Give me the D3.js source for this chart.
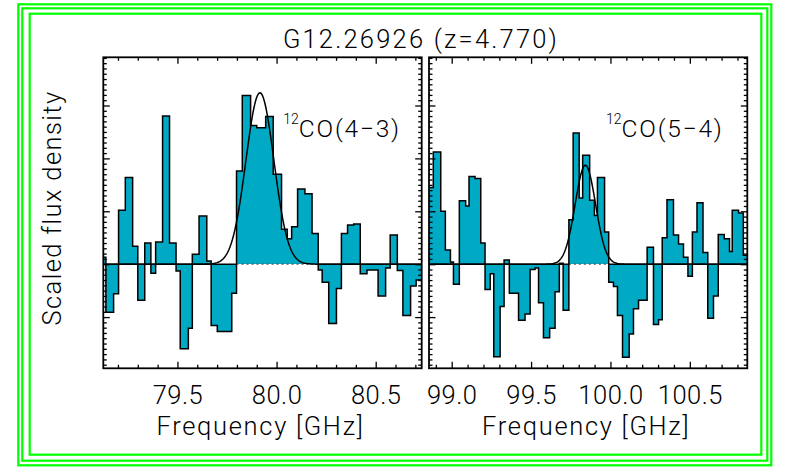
<!DOCTYPE html>
<html><head><meta charset="utf-8">
<script src="https://cdn.jsdelivr.net/npm/d3@7"></script>
<style>body{margin:0;background:#fff}svg{display:block}</style>
</head><body>
<svg id="c" width="786" height="468"></svg>
<script>
// ---------------- data ----------------
const titleText = "G12.26926 (z=4.770)";
const yTitle = "Scaled flux density";
const xTitle = "Frequency [GHz]";

// CO(4-3) panel
const co43Domain = [79.126, 80.732];
const co43Ticks = [79.5, 80.0, 80.5];
const co43Edges = [79.126, 79.139, 79.178, 79.203, 79.237, 79.274, 79.300, 79.335, 79.366, 79.390,
  79.425, 79.460, 79.493, 79.514, 79.555, 79.575, 79.609, 79.648, 79.670, 79.701,
  79.738, 79.774, 79.798, 79.827, 79.869, 79.900, 79.945, 79.983, 80.025, 80.054,
  80.076, 80.106, 80.143, 80.179, 80.210, 80.230, 80.263, 80.302, 80.327, 80.358,
  80.389, 80.422, 80.456, 80.485, 80.512, 80.550, 80.573, 80.609, 80.637, 80.676,
  80.704, 80.732];
const co43Flux = [0.13, -0.91, -0.56, 1.02, 1.64, 0.34, -0.68, 0.40, -0.17, 0.42,
  2.80, 0.40, -0.13, -1.60, -1.21, 0.19, 0.91, 0.06, -1.16, -1.27,
  -1.27, -0.55, 1.76, 3.19, 2.62, 2.58, 2.79, 1.70, 0.66, 0.48,
  0.71, 1.42, 1.33, 0.58, -0.11, -0.34, -1.12, -0.46, 0.58, 0.74,
  0.76, -0.18, -0.11, -0.11, -0.60, -0.07, 0.55, -0.12, -0.97, -0.41, -0.30];
const co43Window = [79.798, 80.210];
const co43Fit = [3.24, 79.916, 0.0705];   // amplitude, centre [GHz], sigma [GHz]
const co43Label = ["12", "CO(4\u22123)"];

// CO(5-4) panel
const co54Domain = [98.857, 100.862];
const co54Ticks = [99.0, 99.5, 100.0, 100.5];
const co54Edges = [98.857, 98.884, 98.931, 98.960, 98.992, 99.011, 99.048, 99.088, 99.109, 99.147,
  99.183, 99.210, 99.243, 99.265, 99.305, 99.330, 99.363, 99.421, 99.462, 99.494,
  99.525, 99.547, 99.578, 99.617, 99.651, 99.678, 99.702, 99.738, 99.765, 99.803,
  99.825, 99.869, 99.899, 99.918, 99.963, 99.989, 100.019, 100.044, 100.076, 100.118,
  100.145, 100.177, 100.208, 100.231, 100.271, 100.303, 100.326, 100.356, 100.397, 100.429,
  100.460, 100.488, 100.516, 100.545, 100.583, 100.613, 100.649, 100.679, 100.717, 100.750,
  100.767, 100.807, 100.837, 100.862];
const co54Flux = [1.45, 2.12, 1.00, 0.27, 0.04, -0.38, 1.20, 1.10, 1.66, 1.62,
  0.40, -0.48, -0.18, -1.75, -0.80, 0.08, -0.55, -1.06, -0.94, -0.10,
  -0.07, -0.73, -1.39, -1.21, -0.52, 0.02, -0.87, 0.84, 2.48, 1.25,
  2.06, 1.21, 0.92, 1.64, 0.61, -0.34, -0.42, -0.97, -1.76, -1.32,
  -0.84, -0.68, -0.68, 0.32, -1.14, -1.05, 0.50, 1.22, 0.55, 0.38,
  0.13, -0.23, 0.61, 1.16, 0.22, -1.02, -0.60, 0.56, 0.48, 0.24,
  1.02, 0.97, 0.17];
const co54Window = [99.738, 99.989];
const co54Fit = [1.87, 99.842, 0.0643];
const co54Label = ["12", "CO(5\u22124)"];

const yDomain = [-1.968, 3.911];
const yMajor = [-1, 0, 1, 2, 3];

// ---------------- drawing ----------------
const svg = d3.select("#c");
const FONT = "Roboto, 'Liberation Sans', sans-serif";
const fillCol = "#00a9c4";
const plotTop = 57.3, plotBot = 368.3;

// green frame
[[18.3, 4.3, 771.3, 465.3], [22.3, 8.3, 767.3, 460.7], [29.7, 13.7, 761.3, 454.7]].forEach(r => {
  svg.append("rect").attr("x", r[0]).attr("y", r[1]).attr("width", r[2] - r[0]).attr("height", r[3] - r[1])
    .attr("fill", "none").attr("stroke", "#00ff00").attr("stroke-width", 2.2);
});

svg.append("text").attr("x", 421).attr("y", 48).attr("text-anchor", "middle")
  .attr("font-family", FONT).attr("font-weight", 300).attr("font-size", 25.5).attr("fill", "#000")
  .attr("letter-spacing", 2.2).text(titleText);

svg.append("text").attr("transform", "translate(61,208) rotate(-90)").attr("text-anchor", "middle")
  .attr("font-family", FONT).attr("font-weight", 300).attr("font-size", 25.5).attr("fill", "#000")
  .attr("letter-spacing", 1.4).text(yTitle);

const y = d3.scaleLinear().domain(yDomain).range([plotBot, plotTop]);

function panel(id, x0, x1, domain, ticks, edges, flux, win, fit, label, labelX) {
  const x = d3.scaleLinear().domain(domain).range([x0, x1]);
  const g = svg.append("g");
  const clipId = "clip" + id;
  svg.append("clipPath").attr("id", clipId).append("rect")
    .attr("x", x0).attr("y", plotTop).attr("width", x1 - x0).attr("height", plotBot - plotTop);
  const pg = g.append("g").attr("clip-path", `url(#${clipId})`);

  const bins = flux.map((v, i) => ({a: edges[i], b: edges[i + 1], v}));
  pg.selectAll("rect.bar").data(bins).join("rect").attr("class", "bar")
    .attr("x", d => x(d.a)).attr("width", d => x(d.b) - x(d.a))
    .attr("y", d => Math.min(y(d.v), y(0))).attr("height", d => Math.abs(y(d.v) - y(0)))
    .attr("fill", fillCol).attr("shape-rendering", "crispEdges");

  // zero line: solid outside the line window, dotted inside
  pg.append("line").attr("x1", x(domain[0])).attr("x2", x(win[0])).attr("y1", y(0)).attr("y2", y(0))
    .attr("stroke", "#000").attr("stroke-width", 1.6);
  pg.append("line").attr("x1", x(win[1])).attr("x2", x(domain[1])).attr("y1", y(0)).attr("y2", y(0))
    .attr("stroke", "#000").attr("stroke-width", 1.6);
  pg.append("line").attr("x1", x(win[0])).attr("x2", x(win[1])).attr("y1", y(0)).attr("y2", y(0))
    .attr("stroke", "#555").attr("stroke-width", 1.2).attr("stroke-dasharray", "2,3");

  // histogram outline
  let p = d3.path();
  bins.forEach((d, i) => {
    if (i === 0) p.moveTo(x(d.a), y(d.v)); else p.lineTo(x(d.a), y(d.v));
    p.lineTo(x(d.b), y(d.v));
  });
  pg.append("path").attr("d", p.toString()).attr("fill", "none").attr("stroke", "#000")
    .attr("stroke-width", 1.5).attr("stroke-linejoin", "miter");

  // gaussian fit
  const gx = d3.range(0, 401).map(i => domain[0] + (domain[1] - domain[0]) * i / 400);
  const line = d3.line().x(f => x(f)).y(f => y(fit[0] * Math.exp(-0.5 * ((f - fit[1]) / fit[2]) ** 2)));
  pg.append("path").attr("d", line(gx)).attr("fill", "none").attr("stroke", "#000").attr("stroke-width", 1.5);

  // axes
  const minorX = d3.range(Math.ceil(domain[0] * 10), Math.floor(domain[1] * 10) + 1).map(k => k / 10)
    .filter(v => !ticks.some(t => Math.abs(t - v) < 1e-6));
  const minorY = d3.range(Math.ceil(yDomain[0] * 10), Math.floor(yDomain[1] * 10) + 1).map(k => k / 10)
    .filter(v => !yMajor.some(t => Math.abs(t - v) < 1e-6));

  const styleAxis = sel => {
    sel.select(".domain").remove();
    sel.selectAll("line").attr("stroke", "#000").attr("stroke-width", 1.3);
    sel.selectAll("text").attr("font-family", FONT).attr("font-weight", 300).attr("font-size", 25.5)
      .attr("letter-spacing", 0.5).attr("fill", "#000");
  };
  g.append("g").attr("transform", `translate(0,${plotBot})`)
    .call(d3.axisBottom(x).tickValues(ticks).tickSize(-6.5).tickPadding(17.6).tickFormat(d3.format(".1f"))).call(styleAxis);
  g.append("g").attr("transform", `translate(0,${plotBot})`)
    .call(d3.axisBottom(x).tickValues(minorX).tickSize(-3.5).tickFormat("")).call(styleAxis);
  g.append("g").attr("transform", `translate(0,${plotTop})`)
    .call(d3.axisTop(x).tickValues(ticks).tickSize(-6.5).tickFormat("")).call(styleAxis);
  g.append("g").attr("transform", `translate(0,${plotTop})`)
    .call(d3.axisTop(x).tickValues(minorX).tickSize(-3.5).tickFormat("")).call(styleAxis);
  g.append("g").attr("transform", `translate(${x0},0)`)
    .call(d3.axisLeft(y).tickValues(yMajor).tickSize(-6.5).tickFormat("")).call(styleAxis);
  g.append("g").attr("transform", `translate(${x0},0)`)
    .call(d3.axisLeft(y).tickValues(minorY).tickSize(-3.5).tickFormat("")).call(styleAxis);
  g.append("g").attr("transform", `translate(${x1},0)`)
    .call(d3.axisRight(y).tickValues(yMajor).tickSize(-6.5).tickFormat("")).call(styleAxis);
  g.append("g").attr("transform", `translate(${x1},0)`)
    .call(d3.axisRight(y).tickValues(minorY).tickSize(-3.5).tickFormat("")).call(styleAxis);

  g.append("rect").attr("x", x0).attr("y", plotTop).attr("width", x1 - x0).attr("height", plotBot - plotTop)
    .attr("fill", "none").attr("stroke", "#000").attr("stroke-width", 1.8);

  // axis title
  g.append("text").attr("x", (x0 + x1) / 2 - 2).attr("y", 435).attr("text-anchor", "middle")
    .attr("font-family", FONT).attr("font-weight", 300).attr("font-size", 25.5).attr("fill", "#000")
    .attr("letter-spacing", 1.7).text(xTitle);

  // line label
  const t = g.append("text").attr("x", labelX).attr("y", 136.5)
    .attr("font-family", FONT).attr("font-weight", 300).attr("fill", "#000");
  t.append("tspan").attr("font-size", 14).attr("dy", -13).text(label[0]);
  t.append("tspan").attr("font-size", 24.5).attr("dy", 13).attr("letter-spacing", 1.8).text(label[1]);
}

panel("L", 103.3, 421.7, co43Domain, co43Ticks, co43Edges, co43Flux, co43Window, co43Fit, co43Label, 283.3);
panel("R", 429, 747.3, co54Domain, co54Ticks, co54Edges, co54Flux, co54Window, co54Fit, co54Label, 606);
</script>
</body></html>
